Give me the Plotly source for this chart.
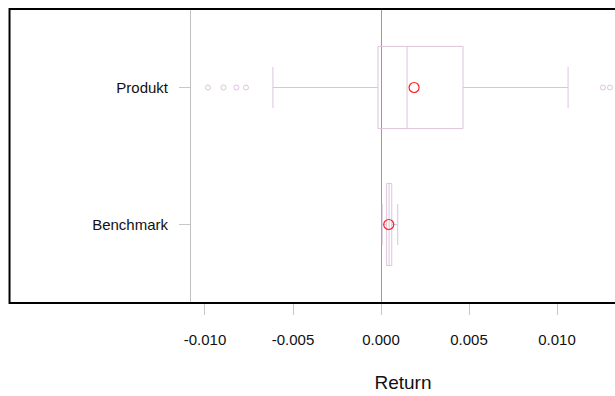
import plotly.graph_objects as go

# Box-plot summary statistics of daily returns
categories = ["Benchmark", "Produkt"]
positions = [0, 1]
q1 = [0.00032, -0.00017]
median = [0.00046, 0.00148]
q3 = [0.00061, 0.00466]
lower_fence = [0.00007, -0.00614]
upper_fence = [0.00095, 0.01063]
means = [0.00044, 0.00188]

# Points beyond the whiskers
outliers_produkt = [-0.00983, -0.00895, -0.00822, -0.00767, 0.01261, 0.01301]

tick_values = [-0.010, -0.005, 0.000, 0.005, 0.010]
tick_labels = [f"{v:.3f}" for v in tick_values]

box_color = "#dcc4dc"
font_family = "Liberation Sans, Arial, Helvetica, sans-serif"

fig = go.Figure()

for i, name in enumerate(categories):
    fig.add_trace(go.Box(
        name=name,
        orientation="h",
        y=[positions[i]],
        q1=[q1[i]],
        median=[median[i]],
        q3=[q3[i]],
        lowerfence=[lower_fence[i]],
        upperfence=[upper_fence[i]],
        width=0.6,
        whiskerwidth=0.5,
        boxpoints=False,
        line=dict(color=box_color, width=1),
        fillcolor="rgba(255,255,255,0)",
        showlegend=False,
        hoverinfo="skip",
    ))

fig.add_trace(go.Scatter(
    x=outliers_produkt,
    y=[positions[1]] * len(outliers_produkt),
    mode="markers",
    marker=dict(symbol="circle-open", size=5, color=box_color, line=dict(width=1)),
    showlegend=False,
    hoverinfo="skip",
))

fig.add_trace(go.Scatter(
    x=means,
    y=positions,
    mode="markers",
    marker=dict(symbol="circle-open", size=10, color="#ff2020", line=dict(width=1.2)),
    showlegend=False,
    hoverinfo="skip",
))

# Frame around the panel
fig.add_shape(
    type="rect", xref="paper", yref="paper",
    x0=-0.428, x1=1.2, y0=0, y1=1.0,
    line=dict(color="black", width=2),
    fillcolor="rgba(0,0,0,0)",
    layer="above",
)

fig.update_layout(
    width=615,
    height=396,
    margin=dict(l=191, r=0, t=9, b=93),
    paper_bgcolor="white",
    plot_bgcolor="white",
    font=dict(family=font_family, size=15, color="#111111"),
    xaxis=dict(
        range=[-0.010795, 0.013295],
        tickvals=tick_values,
        ticktext=tick_labels,
        ticks="outside",
        ticklen=11,
        tickcolor="#c8c8c8",
        tickwidth=1,
        showgrid=False,
        zeroline=True,
        zerolinecolor="#9a9a9a",
        zerolinewidth=1,
        showline=False,
        ticklabelstandoff=12,
        tickfont=dict(size=15),
        title=dict(text="Return", font=dict(size=19), standoff=28),
    ),
    yaxis=dict(
        range=[-0.573, 1.573],
        tickvals=positions,
        ticktext=categories,
        ticks="outside",
        ticklen=11,
        tickcolor="#c8c8c8",
        showgrid=False,
        zeroline=False,
        showline=True,
        linecolor="#c0c0c0",
        linewidth=1,
        ticklabelstandoff=8,
        tickfont=dict(size=15),
    ),
)

fig.write_html("out.html")
